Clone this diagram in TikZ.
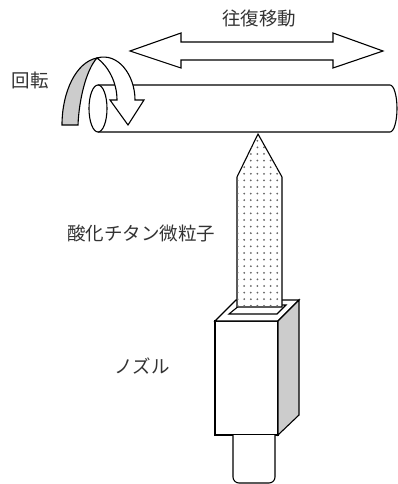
\documentclass[tikz,border=0pt]{standalone}
\usepackage{fontspec}
\newfontfamily\jp{Noto Sans CJK JP}
\usepackage{tikz}
\usetikzlibrary{patterns.meta}

\begin{document}
\begin{tikzpicture}[x=1pt,y=-1pt,line join=miter,
      part/.style={draw=black,line width=1.1pt,fill=white},
      shade/.style={draw=black,line width=1.1pt,fill=gray!40},
      spray/.style={draw=black,line width=1.1pt,fill=white,
        postaction={pattern={Dots[distance=6.6pt,radius=1pt]},pattern color=black!60}},
      label/.style={font=\jp\fontsize{18.5}{20}\selectfont,text=black!80,inner sep=0pt}]

    \useasboundingbox (0,0) rectangle (398,484);

    % labels
    \node[label] (ofuku) at (259,18) {往復移動};
    \node[label] (kaiten) at (30,80) {回転};
    \node[label] (ryushi) at (141,233) {酸化チタン微粒子};
    \node[label] (nozzle) at (142,366) {ノズル};

    % back and forth arrow
    \draw[part] (130,51) -- (181,33) -- (181,42) -- (333,42) -- (333,33) -- (383,51)
      -- (333,68) -- (333,60) -- (181,60) -- (181,68) -- cycle;

    % roller
    \draw[part] (98,85) -- (390,85) arc[start angle=-90,end angle=90,x radius=7,y radius=23.5]
      -- (98,132);
    \draw[part] (98,108.5) ellipse[x radius=9,y radius=23.5];

    % rotation arrow
    \draw[shade] (62,125) -- (78,125) .. controls (79,100) and (86,70) .. (97,58)
      .. controls (76,62) and (62,92) .. cycle;
    \draw[part] (97,58) .. controls (118,52) and (135,75) .. (135,100) -- (144,100)
      -- (128,125) -- (110,100) -- (117,100) .. controls (117,82) and (108,66) .. cycle;

    % nozzle body
    \draw[part] (215,321) rectangle (278,435);
    \draw[part] (215,321) -- (236,300) -- (299,300) -- (278,321) -- cycle;
    \draw[shade] (278,321) -- (299,300) -- (299,415) -- (278,435) -- cycle;
    \draw[part] (229,314) -- (240,305) -- (286,305) -- (277,314) -- cycle;
    \draw[part,rounded corners=6pt] (233,435) -- (233,483) -- (275,483) -- (275,435);

    % particle jet
    \draw[spray] (258,134) -- (282,177) -- (282,307) -- (237,307) -- (237,177) -- cycle;

\end{tikzpicture}
\end{document}
